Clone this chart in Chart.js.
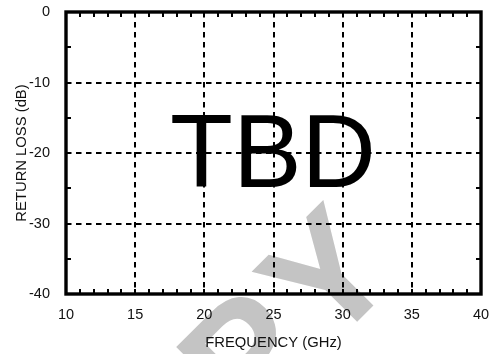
<!DOCTYPE html>
<html>
<head>
<meta charset="utf-8">
<title>Return loss</title>
<script src="https://cdn.jsdelivr.net/npm/chart.js@4.4.1/dist/chart.umd.min.js"></script>
<style>
  html, body { margin: 0; padding: 0; background: #fff; }
  #wrap { width: 490px; height: 354px; }
</style>
</head>
<body>
<div id="wrap"><canvas id="rlChart" width="490" height="354"></canvas></div>
<script>
// Axis ranges and steps (GHz / dB)
const freqRange = [10, 40];
const freqStep = 5;
const freqMinorStep = 1;
const lossRange = [-40, 0];
const lossStep = 10;
const lossMinorStep = 5;

// No measured data yet - the plot only carries the placeholder
const frequency = [];
const returnLoss = [];
const placeholderText = "TBD";
const watermarkText = "COPY";

const FONT = "'Liberation Sans', Arial, Helvetica, sans-serif";

// Gray diagonal watermark, painted under the grid.
// Letters are laid out right to left from the end of the word.
const watermark = {
  id: "watermark",
  beforeDraw(chart) {
    const ctx = chart.ctx;
    ctx.save();
    ctx.fillStyle = "#fff";
    ctx.fillRect(0, 0, chart.width, chart.height);
    ctx.translate(403, 276);
    ctx.rotate(-Math.PI / 4);
    ctx.font = "bold 160px " + FONT;
    ctx.fillStyle = "#c4c4c4";
    ctx.textAlign = "right";
    ctx.textBaseline = "alphabetic";
    let x = 0;
    for (let i = watermarkText.length - 1; i >= 0; i--) {
      const ch = watermarkText[i];
      ctx.fillText(ch, x, 0);
      x -= ctx.measureText(ch).width + 8;
    }
    ctx.restore();
  },
};

// Frame, inward minor ticks and the big placeholder label
const frame = {
  id: "frame",
  afterDraw(chart) {
    const ctx = chart.ctx;
    const a = chart.chartArea;
    const xs = chart.scales.x;
    const ys = chart.scales.y;
    ctx.save();
    ctx.strokeStyle = "#000";
    ctx.lineWidth = 2;
    ctx.beginPath();
    for (let v = freqRange[0]; v <= freqRange[1]; v += freqMinorStep) {
      const px = Math.round(xs.getPixelForValue(v));
      ctx.moveTo(px, a.bottom);
      ctx.lineTo(px, a.bottom - 5);
      ctx.moveTo(px, a.top);
      ctx.lineTo(px, a.top + 5);
    }
    for (let v = lossRange[0]; v <= lossRange[1]; v += lossMinorStep) {
      const py = Math.round(ys.getPixelForValue(v));
      ctx.moveTo(a.left, py);
      ctx.lineTo(a.left + 5, py);
      ctx.moveTo(a.right, py);
      ctx.lineTo(a.right - 5, py);
    }
    ctx.stroke();

    ctx.lineWidth = 3.4;
    ctx.strokeRect(a.left, a.top, a.right - a.left, a.bottom - a.top);

    ctx.fillStyle = "#000";
    ctx.font = "103px " + FONT;
    ctx.textAlign = "center";
    ctx.textBaseline = "alphabetic";
    ctx.fillText(placeholderText, 273, 187);
    ctx.restore();
  },
};

// keep the label overhang from shrinking the plot box
function noOverhang(scale) {
  scale.paddingLeft = 0;
  scale.paddingRight = 0;
  scale.paddingTop = 0;
  scale.paddingBottom = 0;
}

const ctx = document.getElementById("rlChart").getContext("2d");
const rlChart = new Chart(ctx, {
  type: "line",
  data: {
    datasets: [
      {
        label: "Return loss",
        data: frequency.map((f, i) => ({ x: f, y: returnLoss[i] })),
        borderColor: "#000",
        pointRadius: 0,
      },
    ],
  },
  options: {
    responsive: false,
    animation: false,
    layout: { padding: { top: 12, right: 9, left: 0, bottom: 0 } },
    plugins: {
      legend: { display: false },
      tooltip: { enabled: false },
    },
    scales: {
      x: {
        type: "linear",
        position: "bottom",
        min: freqRange[0],
        max: freqRange[1],
        ticks: {
          stepSize: freqStep,
          color: "#111",
          padding: 12,
          maxRotation: 0,
          font: { family: FONT, size: 14.5 },
        },
        grid: { color: "#000", lineWidth: 2, drawTicks: false },
        border: { display: false, dash: [5.5, 4.5] },
        title: {
          display: true,
          text: "FREQUENCY (GHz)",
          color: "#111",
          font: { family: FONT, size: 14.8 },
          padding: { top: 0, bottom: 2.6 },
        },
        afterFit(scale) {
          scale.height = 60;
          noOverhang(scale);
        },
      },
      y: {
        type: "linear",
        position: "left",
        min: lossRange[0],
        max: lossRange[1],
        ticks: {
          stepSize: lossStep,
          color: "#111",
          padding: 16,
          font: { family: FONT, size: 14.5 },
        },
        grid: { color: "#000", lineWidth: 2, drawTicks: false },
        border: { display: false, dash: [5.5, 4.5] },
        title: {
          display: true,
          text: "RETURN LOSS (dB)",
          color: "#111",
          font: { family: FONT, size: 14.8 },
          padding: { top: 12.6, bottom: 0 },
        },
        afterFit(scale) {
          scale.width = 66;
          noOverhang(scale);
        },
      },
    },
  },
  plugins: [watermark, frame],
});
</script>
</body>
</html>
